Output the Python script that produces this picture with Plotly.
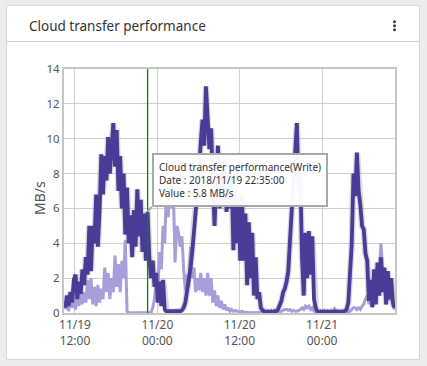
import plotly.graph_objects as go
import pandas as pd

# ---------------- data ----------------
series_start = "2018-11-19 10:35"
sample_step = "15min"

write_mbps = [
    0.3, 1.0, 0.4, 1.2, 0.6, 1.9, 2.2, 0.8, 1.8, 1.1,
    2.5, 1.6, 3.2, 2.2, 5.0, 2.4, 5.0, 4.0, 6.8, 3.8,
    5.8, 9.1, 6.8, 9.0, 7.6, 10.1, 8.0, 9.5, 10.9, 8.4,
    10.5, 7.0, 9.0, 6.0, 8.0, 4.5, 7.2, 4.0, 5.6, 3.2,
    5.9, 3.8, 7.1, 4.4, 6.5, 3.5, 5.7, 3.0, 5.8, 3.2,
    2.0, 3.0, 1.5, 2.3, 0.6, 1.8, 0.4, 1.9, 0.2, 0.1,
    0.1, 0.05, 0.1, 0.05, 0.1, 0.05, 0.1, 0.1, 0.15, 0.3,
    0.6, 1.2, 1.9, 2.6, 3.5, 5.0, 5.8, 6.8, 8.0, 9.8,
    11.1, 9.6, 13.0, 10.8, 9.4, 10.6, 7.0, 5.0, 7.5, 9.6,
    6.0, 8.5, 6.2, 8.8, 5.8, 8.0, 6.0, 7.8, 3.6, 7.0,
    4.0, 6.5, 3.0, 6.8, 3.0, 5.7, 1.6, 5.2, 2.0, 4.6,
    1.0, 3.2, 0.8, 1.2, 0.3, 0.15, 0.1, 0.05, 0.1, 0.05,
    0.1, 0.05, 0.1, 0.1, 0.2, 0.4, 0.7, 1.2, 1.4, 1.8,
    2.4, 4.2, 6.0, 8.2, 9.4, 10.9, 7.0, 8.0, 3.2, 1.0,
    4.6, 2.0, 4.7, 2.2, 4.4, 0.8, 0.3, 0.1, 0.05, 0.1,
    0.05, 0.1, 0.05, 0.1, 0.05, 0.1, 0.05, 0.1, 0.05, 0.1,
    0.05, 0.1, 0.05, 0.1, 0.2, 0.6, 2.3, 4.0, 8.0, 6.7,
    9.2, 7.0, 6.2, 5.0, 4.8, 3.4, 3.0, 0.7, 1.9, 0.35,
    2.5, 0.5, 2.9, 1.0, 3.2, 1.2, 2.6, 0.5, 2.4, 0.8,
    2.0, 0.6, 0.3,
]

read_mbps = [
    0.2, 0.8, 0.1, 1.0, 0.3, 0.9, 0.2, 1.2, 0.4, 1.3,
    0.5, 1.2, 0.6, 1.9, 0.8, 2.0, 0.5, 1.5, 0.4, 1.6,
    0.6, 1.4, 0.8, 2.6, 1.2, 2.3, 0.8, 2.0, 1.2, 3.3,
    1.5, 2.8, 1.2, 3.0, 2.0, 4.2, 0.1, 0.02, 0.02, 0.02,
    0.02, 0.02, 0.02, 0.02, 0.02, 0.02, 0.02, 0.02, 0.02, 0.02,
    0.02, 0.3, 0.8, 2.0, 1.4, 3.5, 2.5, 5.0, 4.0, 7.2,
    5.5, 7.8, 6.0, 7.0, 2.9, 5.0, 4.6, 3.8, 4.4, 2.5,
    1.3, 2.2, 1.5, 3.8, 2.0, 2.6, 1.2, 2.0, 1.3, 2.3,
    1.2, 2.0, 1.0, 2.3, 1.0, 2.0, 0.6, 1.3, 0.4, 1.0,
    0.3, 0.7, 0.2, 0.5, 0.15, 0.3, 0.1, 0.2, 0.1, 0.15,
    0.1, 0.1, 0.05, 0.1, 0.05, 0.05, 0.02, 0.02, 0.02, 0.02,
    0.02, 0.02, 0.02, 0.02, 0.02, 0.02, 0.02, 0.02, 0.02, 0.02,
    0.02, 0.02, 0.02, 0.02, 0.02, 0.05, 0.1, 0.15, 0.2, 0.2,
    0.15, 0.2, 0.1, 0.15, 0.1, 0.1, 0.15, 0.2, 0.3, 0.2,
    0.4, 0.3, 0.4, 0.2, 0.3, 0.1, 0.05, 0.02, 0.02, 0.02,
    0.02, 0.02, 0.02, 0.02, 0.02, 0.05, 0.1, 0.25, 0.1, 0.02,
    0.02, 0.02, 0.02, 0.02, 0.02, 0.05, 0.1, 0.2, 0.3, 0.3,
    0.2, 0.3, 0.2, 0.4, 0.5, 0.8, 1.0, 0.5, 1.0, 0.3,
    1.5, 0.5, 2.0, 2.2, 4.0, 2.5, 2.0, 0.5, 1.5, 0.7,
    1.2, 0.4, 0.2,
]

x_tick_vals = ["2018-11-19 12:00", "2018-11-20 00:00", "2018-11-20 12:00", "2018-11-21 00:00"]
x_tick_text = ["11/19<br>12:00", "11/20<br>00:00", "11/20<br>12:00", "11/21<br>00:00"]
y_tick_vals = [0, 2, 4, 6, 8, 10, 12, 14]
x_range = ["2018-11-19 10:24", "2018-11-21 10:38"]
y_range = [0, 14]

chart_title = "Cloud transfer performance"
series_write = "Cloud transfer performance(Write)"
series_read = "Cloud transfer performance(Read)"
y_title = "MB/s"
hover_time = "2018-11-19 22:35"
hover_label_time = "2018/11/19 22:35:00"
hover_value = 5.8

times = pd.date_range(series_start, periods=len(write_mbps), freq=sample_step)

# ---------------- layout geometry (pixels) ----------------
W, H = 427, 366
ML, MR, MT, MB = 64, 32, 69, 53
PW, PH = W - ML - MR, H - MT - MB


def px(x):
    return (x - ML) / PW


def py(y):
    return (H - MB - y) / PH


FONT = "Noto Sans"
DARK = "#4a3b96"
LIGHT = "#a89ed9"
GRID = "#ccd3cc"
FRAME = "#c2c9c2"

fig = go.Figure()

fig.add_trace(go.Scatter(
    x=times, y=read_mbps, mode="lines", name=series_read,
    line=dict(color=LIGHT, width=3), hoverinfo="skip", showlegend=False,
))
fig.add_trace(go.Scatter(
    x=times, y=write_mbps, mode="lines", name="shadow",
    line=dict(color="rgba(150,145,175,0.35)", width=6.5), hoverinfo="skip", showlegend=False,
))
fig.add_trace(go.Scatter(
    x=times, y=write_mbps, mode="lines", name=series_write,
    line=dict(color=DARK, width=3.8), showlegend=False,
))

shapes = [
    # card
    dict(type="rect", xref="paper", yref="paper", layer="below",
         x0=px(6.5), x1=px(419.5), y0=py(359.5), y1=py(5.5),
         fillcolor="white", line=dict(color="#d6d6d6", width=1)),
    # header separator
    dict(type="line", xref="paper", yref="paper", layer="below",
         x0=px(6.5), x1=px(419.5), y0=py(41.5), y1=py(41.5),
         line=dict(color="#cfcfcf", width=1)),
    # hover marker line
    dict(type="line", xref="x", yref="y", x0=hover_time, x1=hover_time,
         y0=y_range[0], y1=y_range[1], line=dict(color="#008a00", width=1.3), layer="above"),
]
# kebab menu dots
for cy in (21.7, 25.7, 29.7):
    shapes.append(dict(type="circle", xref="paper", yref="paper",
                       x0=px(393), x1=px(396), y0=py(cy + 1.5), y1=py(cy - 1.5),
                       fillcolor="#3c3c3c", line=dict(width=0)))

annotations = [
    dict(text=chart_title, xref="paper", yref="paper", x=px(27), y=py(26),
         xanchor="left", yanchor="middle", showarrow=False,
         font=dict(family=FONT, size=13.5, color="#333333")),
    dict(text=y_title, xref="paper", yref="paper", x=px(39), y=py(198),
         xanchor="center", yanchor="middle", showarrow=False, textangle=-90,
         font=dict(family=FONT, size=14, color="#555555")),
    dict(text=f"{series_write}<br>Date : {hover_label_time}<br>Value : {hover_value} MB/s",
         xref="x", yref="y", x=hover_time, y=hover_value,
         showarrow=True, arrowhead=0, arrowwidth=2, arrowcolor="#a3abab",
         ax=4, ay=-5, xanchor="left", yanchor="bottom", align="left",
         bgcolor="rgba(255,255,255,0.96)", bordercolor="#a3abab", borderwidth=2, borderpad=5,
         font=dict(family=FONT, size=10, color="#333333")),
]

fig.update_layout(
    width=W, height=H,
    margin=dict(l=ML, r=MR, t=MT, b=MB, pad=0),
    paper_bgcolor="#ececec",
    plot_bgcolor="white",
    showlegend=False,
    shapes=shapes,
    annotations=annotations,
    font=dict(family=FONT, color="#555555"),
)
fig.update_xaxes(
    range=x_range, type="date", tickmode="array",
    tickvals=x_tick_vals, ticktext=x_tick_text,
    tickfont=dict(family=FONT, size=12, color="#555555"),
    showgrid=True, gridcolor=GRID, gridwidth=1,
    showline=True, linecolor=FRAME, linewidth=2, mirror=True,
    zeroline=False, automargin=False, ticks="",
)
fig.update_yaxes(
    range=y_range, tickmode="array", tickvals=y_tick_vals,
    tickfont=dict(family=FONT, size=11.5, color="#555555"),
    showgrid=True, gridcolor=GRID, gridwidth=1,
    showline=True, linecolor=FRAME, linewidth=2, mirror=True,
    zeroline=False, automargin=False, ticks="",
)

fig.write_html("out.html", config={"displayModeBar": False},
               post_script="document.body.style.margin='0';document.body.style.overflow='hidden';")
